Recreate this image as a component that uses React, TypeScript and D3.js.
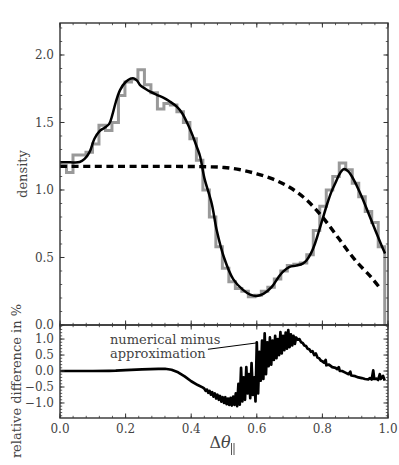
import React from 'react';
import * as d3 from 'd3';

// histogram of the numerical result (50 bins over [0, 0.99])
const histRange = [0, 0.99];
const histValues = [
  1.18, 1.13, 1.26, 1.26, 1.28, 1.34, 1.48, 1.44, 1.5, 1.7,
  1.8, 1.82, 1.89, 1.78, 1.72, 1.6, 1.64, 1.63, 1.58, 1.5,
  1.38, 1.22, 1.0, 0.8, 0.58, 0.42, 0.32, 0.27, 0.25, 0.21,
  0.22, 0.25, 0.28, 0.34, 0.4, 0.44, 0.45, 0.46, 0.52, 0.7,
  0.88, 1.0, 1.1, 1.2, 1.15, 1.05, 0.95, 0.84, 0.76, 0.58,
];

// smooth approximation (solid)
const approxX = [0, 0.03, 0.06, 0.075, 0.09, 0.105, 0.12, 0.135, 0.15, 0.16, 0.17, 0.183, 0.2, 0.215, 0.225, 0.235, 0.245, 0.26, 0.275, 0.295, 0.315, 0.335, 0.356, 0.372, 0.386, 0.4, 0.417, 0.427, 0.44, 0.4625, 0.478, 0.5, 0.528, 0.558, 0.58, 0.6, 0.62, 0.645, 0.665, 0.68, 0.7, 0.72, 0.74, 0.752, 0.765, 0.777, 0.79, 0.8, 0.815, 0.828, 0.843, 0.855, 0.866, 0.878, 0.89, 0.905, 0.92, 0.945, 0.965, 0.98, 0.991];
const approxY = [1.205, 1.205, 1.207, 1.23, 1.28, 1.38, 1.435, 1.46, 1.49, 1.56, 1.65, 1.74, 1.8, 1.825, 1.827, 1.81, 1.775, 1.75, 1.728, 1.705, 1.684, 1.655, 1.617, 1.57, 1.506, 1.43, 1.32, 1.25, 1.09, 0.9, 0.7, 0.5, 0.34, 0.26, 0.225, 0.215, 0.23, 0.28, 0.35, 0.395, 0.43, 0.44, 0.455, 0.48, 0.53, 0.6, 0.7, 0.78, 0.9, 0.99, 1.07, 1.13, 1.155, 1.14, 1.1, 1.03, 0.95, 0.8, 0.68, 0.59, 0.53];

// reference distribution (dashed)
const refX = [0, 0.1, 0.2, 0.3, 0.4, 0.45, 0.5, 0.55, 0.6, 0.65, 0.7, 0.75, 0.8, 0.85, 0.9, 0.95, 0.98];
const refY = [1.175, 1.175, 1.175, 1.175, 1.174, 1.172, 1.167, 1.15, 1.12, 1.08, 1.02, 0.93, 0.8, 0.64, 0.48, 0.35, 0.26];

// relative difference in %
const diffPts: [number, number][] = [
  [0, 0], [0.05, 0], [0.1, 0], [0.15, 0.005], [0.17, 0.01], [0.2, 0.03], [0.25, 0.05], [0.3, 0.07],
  [0.32, 0.07], [0.34, 0.04], [0.36, -0.04], [0.38, -0.17], [0.4, -0.32], [0.42, -0.44], [0.436, -0.52],
  [0.44, -0.55], [0.444, -0.62], [0.448, -0.58], [0.452, -0.68], [0.456, -0.62], [0.46, -0.74], [0.464, -0.66],
  [0.468, -0.8], [0.472, -0.7], [0.476, -0.86], [0.48, -0.74], [0.484, -0.9], [0.488, -0.78], [0.492, -0.96],
  [0.496, -0.82], [0.5, -1.0], [0.504, -0.82], [0.508, -1.04], [0.512, -0.86], [0.516, -1.06], [0.52, -0.84],
  [0.524, -1.08], [0.528, -0.8], [0.532, -1.06], [0.536, -0.7], [0.54, -1.1], [0.544, -0.4], [0.548, -1.05],
  [0.552, 0.1], [0.556, -0.95], [0.56, -0.2], [0.564, -0.9], [0.568, 0.12], [0.572, -0.7], [0.576, -0.1],
  [0.58, -0.85], [0.584, 0.25], [0.588, -0.75], [0.592, -0.2], [0.596, -0.95], [0.6, 0.9], [0.604, -0.7],
  [0.608, 0.6], [0.612, -0.3], [0.616, 0.95], [0.62, -0.25], [0.624, 1.18], [0.628, -0.1], [0.632, 0.9],
  [0.636, 0.15], [0.64, 1.05], [0.644, 0.2], [0.648, 0.95], [0.652, 0.35], [0.656, 1.1], [0.66, 0.4],
  [0.664, 1.0], [0.668, 0.5], [0.672, 1.22], [0.676, 0.55], [0.68, 1.1], [0.684, 0.65], [0.688, 1.2],
  [0.692, 0.7], [0.696, 1.28], [0.7, 0.75], [0.704, 1.15], [0.708, 0.8], [0.712, 1.1], [0.716, 0.85],
  [0.72, 1.05], [0.725, 0.98], [0.73, 1.0], [0.735, 0.9], [0.74, 0.88], [0.745, 0.8], [0.75, 0.78],
  [0.755, 0.7], [0.76, 0.68], [0.765, 0.6], [0.77, 0.62], [0.775, 0.5], [0.78, 0.55], [0.785, 0.42],
  [0.79, 0.4], [0.795, 0.33], [0.8, 0.3], [0.805, 0.26], [0.81, 0.35], [0.812, 0.18], [0.82, 0.2],
  [0.83, 0.12], [0.84, 0.1], [0.845, 0.06], [0.85, 0.12], [0.853, 0.0], [0.86, 0.0], [0.87, -0.05],
  [0.88, -0.1], [0.885, -0.02], [0.888, -0.14], [0.9, -0.16], [0.91, -0.2], [0.92, -0.22], [0.93, -0.25],
  [0.94, -0.26], [0.945, -0.22], [0.95, -0.27], [0.955, 0.02], [0.958, -0.25], [0.965, -0.24], [0.97, -0.28],
  [0.975, -0.1], [0.978, -0.25], [0.985, -0.15], [0.99, -0.3],
];

const xTicks = [0, 0.2, 0.4, 0.6, 0.8, 1.0];
const topYTicks = [0, 0.5, 1.0, 1.5, 2.0];
const botYTicks = [-1.0, -0.5, 0, 0.5, 1.0];

const serif = 'DejaVu Serif';
const textCol = '#444';
const frameCol = '#333';

const left = 60, right = 388;
const topT = 23, topB = 325, botT = 325, botB = 418;

const x = d3.scaleLinear().domain([0, 1]).range([left, right]);
const yTop = d3.scaleLinear().domain([0, 2.237]).range([topB, topT]);
const yBot = d3.scaleLinear().domain([-1.47, 1.44]).range([botB, botT]);

const fmt = (v: number) => d3.format('.1f')(v).replace('-', '\u2212');

function Frame({ y, y0, y1, yMajor, yMinor }: { y: d3.ScaleLinear<number, number>; y0: number; y1: number; yMajor: number[]; yMinor: number[] }) {
  const xMinor = d3.range(0, 1.0001, 0.04);
  const maj = 4.5, mn = 2.2;
  return (
    <g stroke={frameCol} fill="none">
      {xMinor.map((v, i) => (
        <g key={'xm' + i} strokeWidth={0.8}>
          <line x1={x(v)} x2={x(v)} y1={y1} y2={y1 - mn} />
          <line x1={x(v)} x2={x(v)} y1={y0} y2={y0 + mn} />
        </g>
      ))}
      {xTicks.map((v, i) => (
        <g key={'xM' + i} strokeWidth={1}>
          <line x1={x(v)} x2={x(v)} y1={y1} y2={y1 - maj} />
          <line x1={x(v)} x2={x(v)} y1={y0} y2={y0 + maj} />
        </g>
      ))}
      {yMinor.map((v, i) => (
        <g key={'ym' + i} strokeWidth={0.8}>
          <line x1={left} x2={left + mn} y1={y(v)} y2={y(v)} />
          <line x1={right} x2={right - mn} y1={y(v)} y2={y(v)} />
        </g>
      ))}
      {yMajor.map((v, i) => (
        <g key={'yM' + i} strokeWidth={1}>
          <line x1={left} x2={left + maj} y1={y(v)} y2={y(v)} />
          <line x1={right} x2={right - maj} y1={y(v)} y2={y(v)} />
        </g>
      ))}
      <rect x={left} y={y0} width={right - left} height={y1 - y0} strokeWidth={1.4} />
    </g>
  );
}

export default function App() {
  const binW = (histRange[1] - histRange[0]) / histValues.length;
  let hist = `M${x(histRange[0])},${yTop(histValues[0])}`;
  histValues.forEach((v, i) => {
    const x0 = histRange[0] + i * binW;
    hist += `L${x(x0)},${yTop(v)}L${x(x0 + binW)},${yTop(v)}`;
  });
  hist += `L${x(histRange[1])},${yTop(0)}`;

  const lineTop = d3.line<number>().x((_, i) => x(approxX[i])).y((d) => yTop(d)).curve(d3.curveCatmullRom);
  const lineRef = d3.line<number>().x((_, i) => x(refX[i])).y((d) => yTop(d)).curve(d3.curveCatmullRom);
  const lineDiff = d3.line<[number, number]>().x((d) => x(d[0])).y((d) => yBot(d[1]));

  const topMinor = d3.range(0, 2.2001, 0.1);
  const botMinor = d3.range(-1.4, 1.4001, 0.1);

  const lx = (left + right) / 2;

  return (
    <div style={{ position: 'absolute', left: 0, top: 0 }}>
      <svg width={399} height={465} style={{ display: 'block' }}>
        <rect width={399} height={465} fill="#fff" />
        <defs>
          <clipPath id="cpTop"><rect x={left} y={topT} width={right - left} height={topB - topT} /></clipPath>
          <clipPath id="cpBot"><rect x={left} y={botT} width={right - left} height={botB - botT} /></clipPath>
        </defs>
        <g clipPath="url(#cpTop)">
          <path d={hist} fill="none" stroke="#999" strokeWidth={3} />
          <path d={lineRef(refY) || ''} fill="none" stroke="#000" strokeWidth={3.4} strokeDasharray="7,4.6" />
          <path d={lineTop(approxY) || ''} fill="none" stroke="#000" strokeWidth={2.5} />
        </g>
        <g clipPath="url(#cpBot)">
          <path d={lineDiff(diffPts) || ''} fill="none" stroke="#000" strokeWidth={2.7} strokeLinejoin="round" />
        </g>
        <Frame y={yTop} y0={topT} y1={topB} yMajor={topYTicks} yMinor={topMinor} />
        <Frame y={yBot} y0={botT} y1={botB} yMajor={botYTicks} yMinor={botMinor} />

        <g fontFamily={serif} fontSize={12} fill={textCol} textAnchor="end">
          {topYTicks.map((v) => (
            <text key={'ty' + v} x={left - 6} y={yTop(v)} dy="0.36em">{fmt(v)}</text>
          ))}
          {botYTicks.map((v) => (
            <text key={'by' + v} x={left - 6} y={yBot(v)} dy="0.36em">{fmt(v)}</text>
          ))}
        </g>
        <g fontFamily={serif} fontSize={12} fill={textCol} textAnchor="middle">
          {xTicks.map((v) => (
            <text key={'xt' + v} x={x(v)} y={433}>{fmt(v)}</text>
          ))}
        </g>

        <text transform={`translate(27,${(topT + topB) / 2}) rotate(-90)`} textAnchor="middle" fontFamily={serif} fontSize={13} fill={textCol}>density</text>
        <text transform={`translate(21,381) rotate(-90)`} textAnchor="middle" fontFamily={serif} fontSize={13} fill={textCol}>relative difference in %</text>
        <text x={lx - 4} y={448} textAnchor="middle" fontFamily={serif} fontSize={16} fill={textCol}>
          Δ<tspan fontStyle="italic">θ</tspan>
        </text>
        <g stroke={textCol} strokeWidth={0.9}>
          <line x1={lx + 7.5} x2={lx + 7.5} y1={443} y2={455} />
          <line x1={lx + 10} x2={lx + 10} y1={443} y2={455} />
        </g>

        <g fontFamily={serif} fontSize={13} fill={textCol}>
          <text x={110} y={343.5}>numerical minus</text>
          <text x={110} y={358}>approximation</text>
        </g>
        <line x1={x(0.451)} y1={yBot(0.68)} x2={x(0.6)} y2={yBot(0.88)} stroke="#000" strokeWidth={1} />
      </svg>
    </div>
  );
}
